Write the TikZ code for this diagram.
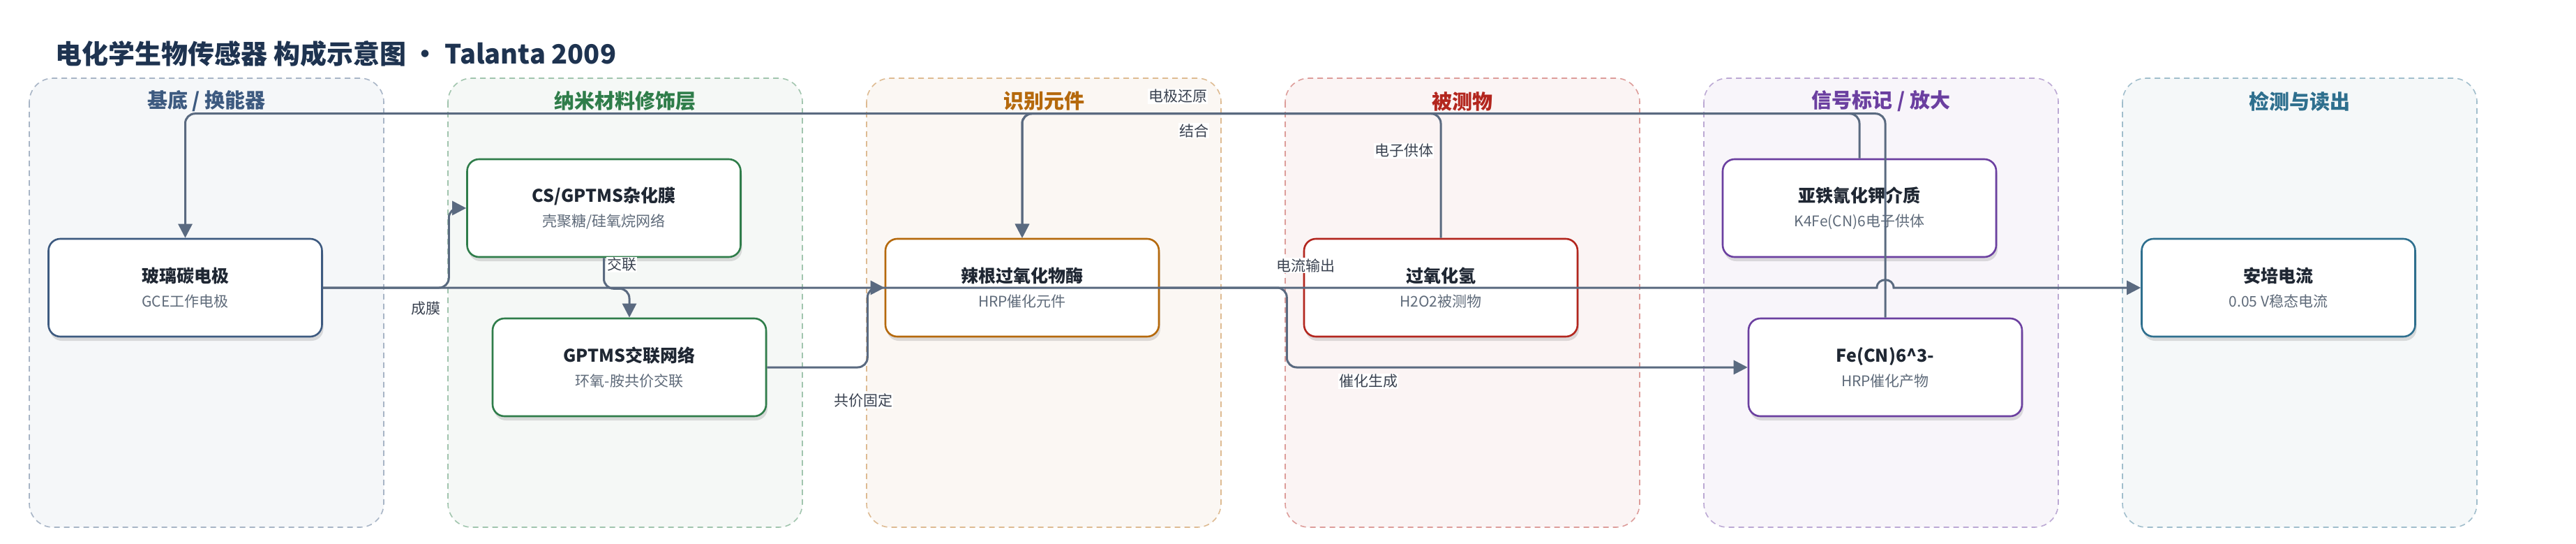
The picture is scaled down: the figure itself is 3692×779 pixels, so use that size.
\documentclass[tikz,border=0pt]{standalone}
\usepackage{fontspec}
\setmainfont{Noto Sans CJK SC}
\usetikzlibrary{arrows.meta,shadows}

\definecolor{edgec}{HTML}{5A6A80}
\definecolor{titlec}{HTML}{1E3350}
\definecolor{maintxt}{HTML}{1F2733}
\definecolor{subtxt}{HTML}{5F6B7A}
\definecolor{lblc}{HTML}{3A4250}
\definecolor{cA}{HTML}{3D5A80}
\definecolor{cB}{HTML}{2F7D4A}
\definecolor{cC}{HTML}{B5690C}
\definecolor{cD}{HTML}{B3261E}
\definecolor{cE}{HTML}{6B3FA0}
\definecolor{cF}{HTML}{2E6F8E}

\newcommand{\twoline}[2]{{\fontsize{25}{35}\selectfont\bfseries\color{maintxt}#1}\\{\color{subtxt}#2}}

\tikzset{
  panel/.style={draw=#1!45, fill=#1!5, dash pattern=on 8pt off 6pt, line width=1.6pt, rounded corners=34pt},
  ptitle/.style={text=#1, font=\fontsize{29}{32}\selectfont\bfseries},
  box/.style={draw=#1, line width=2.6pt, fill=white, rounded corners=17pt,
    minimum width=392pt, minimum height=140pt, align=center,
    font=\fontsize{21}{35}\selectfont,
    drop shadow={shadow xshift=2pt, shadow yshift=-6pt, opacity=0.12, fill=black}},
  edge/.style={draw=edgec, line width=3pt, rounded corners=14pt},
  tip/.style={-{Triangle[length=20pt,width=20pt]}},
  lbl/.style={fill=white, inner sep=1pt, text=lblc, font=\fontsize{21}{24}\selectfont},
}

\begin{document}
\begin{tikzpicture}[x=1pt,y=-1pt]
  \useasboundingbox[fill=white] (0,0) rectangle (3692,779);

  \node[anchor=west, text=titlec, font=\fontsize{38}{44}\selectfont\bfseries] (title) at (76,77) {电化学生物传感器 构成示意图 · Talanta 2009};

  % stages
  \foreach \i/\c/\t in {0/cA/{基底 / 换能器}, 1/cB/{纳米材料修饰层}, 2/cC/{识别元件}, 3/cD/{被测物}, 4/cE/{信号标记 / 放大}, 5/cF/{检测与读出}}{
    \draw[panel=\c] (42+600*\i,112) rectangle (550+600*\i,755);
    \node[ptitle=\c] (stage\i) at (296+600*\i,145) {\t};
  }

  \node[box=cA] (gce) at (265.5,412) {\twoline{玻璃碳电极}{GCE工作电极}};
  \node[box=cB] (csfilm) at (865.5,298) {\twoline{CS/GPTMS杂化膜}{壳聚糖/硅氧烷网络}};
  \node[box=cB] (gptms) at (902,526) {\twoline{GPTMS交联网络}{环氧-胺共价交联}};
  \node[box=cC] (hrp) at (1465,412) {\twoline{辣根过氧化物酶}{HRP催化元件}};
  \node[box=cD] (hperox) at (2065,412) {\twoline{过氧化氢}{H2O2被测物}};
  \node[box=cE] (ferro) at (2665,298) {\twoline{亚铁氰化钾介质}{K4Fe(CN)6电子供体}};
  \node[box=cE] (ferri) at (2702,526) {\twoline{Fe(CN)6\textasciicircum 3-}{HRP催化产物}};
  \node[box=cF] (amp) at (3265.5,412) {\twoline{安培电流}{0.05 V稳态电流}};

  % connectors
  \coordinate (hop) at (gce.east -| ferri.north);
  \draw [edge][tip,sharp corners] (gce.east) -- ([xshift=-12pt]hop) .. controls ([xshift=-12pt,yshift=15pt]hop) and ([xshift=12pt,yshift=15pt]hop) .. ([xshift=12pt]hop) -- (amp.west);
  \draw [edge][tip] (gce.east) -- ++(180.5,0) |- (csfilm.west);
  \draw [edge][tip] (csfilm.south) -- ++(0,44) -| (gptms.north);
  \draw [edge][tip] (gptms.east) -- ++(144,0) |- (hrp.west);
  \draw [edge][tip] (hrp.east) -- ++(182,0) |- (ferri.west);
  \draw [edge][tip] (hperox.north) -- ++(0,-178) -| (hrp.north);
  \draw [edge][tip] (ferro.north) -- ++(0,-64) -| (hrp.north);
  \draw [edge][tip] (ferri.north) -- ++(0,-292) -| (gce.north);

  \node[lbl] (l1) at (610,442) {成膜};
  \node[lbl] (l2) at (891,379) {交联};
  \node[lbl] (l3) at (1237,574) {共价固定};
  \node[lbl] (l4) at (1688,138) {电极还原};
  \node[lbl] (l5) at (1711,187) {结合};
  \node[lbl] (l6) at (2012,216) {电子供体};
  \node[lbl] (l7) at (1871,380) {电流输出};
  \node[lbl] (l8) at (1961,546) {催化生成};
\end{tikzpicture}
\end{document}
